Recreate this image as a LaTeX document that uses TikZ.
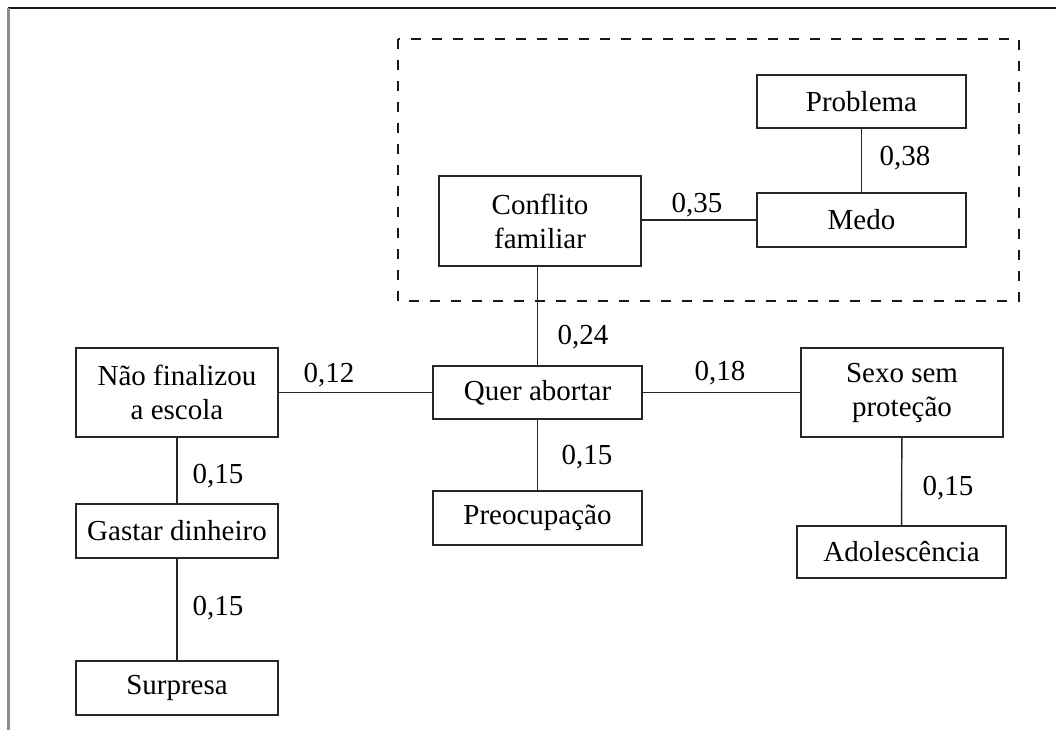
\documentclass[tikz,border=0pt]{standalone}
\usepackage{fontspec}
\setmainfont{Liberation Serif}
\begin{document}
\begin{tikzpicture}[x=0.5pt,y=-0.5pt,
  box/.style={draw=black!85,line width=0.7pt,rectangle,inner sep=0pt,align=center,
    font=\fontsize{14.5}{17}\selectfont},
  lbl/.style={inner sep=0pt,font=\fontsize{14.5}{17}\selectfont},
  conn/.style={draw=black!85,line width=0.7pt}]
\useasboundingbox[fill=white] (0,0) rectangle (1056,730);
\draw[black!90,line width=1pt] (8,8) -- (1056,8);
\draw[black!45,line width=1.1pt] (8.5,8) -- (8.5,730);
\draw[black!90,line width=1.3pt,dash pattern=on 5pt off 5.5pt] (398,39) rectangle (1019,301);
\node[box,minimum width=104.5pt,minimum height=26.5pt] (prob) at (861.5,101.5) {Problema};
\node[box,minimum width=104.5pt,minimum height=27pt] (medo) at (861.5,220) {Medo};
\node[box,minimum width=101pt,minimum height=45pt] (conf) at (540,221) {Conflito\\familiar};
\node[box,minimum width=104.5pt,minimum height=26.5pt] (quer) at (537.5,392.5) {Quer abortar};
\node[box,minimum width=101pt,minimum height=44.5pt] (nao) at (177,392.5) {Não finalizou\\a escola};
\node[box,minimum width=101pt,minimum height=27pt] (gast) at (177,531) {Gastar dinheiro};
\node[box,minimum width=101pt,minimum height=27pt] (surp) at (177,688) {Surpresa};
\node[box,minimum width=104.5pt,minimum height=27pt] (preo) at (537.5,518) {Preocupação};
\node[box,minimum width=101pt,minimum height=44.5pt] (sexo) at (902,392.5) {Sexo sem\\proteção};
\node[box,minimum width=104.5pt,minimum height=26pt] (adol) at (901.5,552) {Adolescência};
\draw[conn] (prob) -- (medo);
\draw[conn] (conf.east |- medo.west) -- (medo.west);
\draw[conn] (quer.north) -- (quer.north |- conf.south);
\draw[conn] (nao) -- (quer);
\draw[conn] (quer) -- (sexo);
\draw[conn] (quer) -- (preo);
\draw[conn] (nao) -- (gast);
\draw[conn] (gast) -- (surp);
\draw[conn] (sexo) -- (adol);
\node[lbl] (l38) at (905,158) {0,38};
\node[lbl] (l35) at (697,205) {0,35};
\node[lbl] (l24) at (583,337) {0,24};
\node[lbl] (l12) at (329,375) {0,12};
\node[lbl] (l18) at (720,373) {0,18};
\node[lbl] (l15a) at (587,457) {0,15};
\node[lbl] (l15b) at (218,476) {0,15};
\node[lbl] (l15c) at (218,608) {0,15};
\node[lbl] (l15d) at (948,488) {0,15};
\end{tikzpicture}
\end{document}
